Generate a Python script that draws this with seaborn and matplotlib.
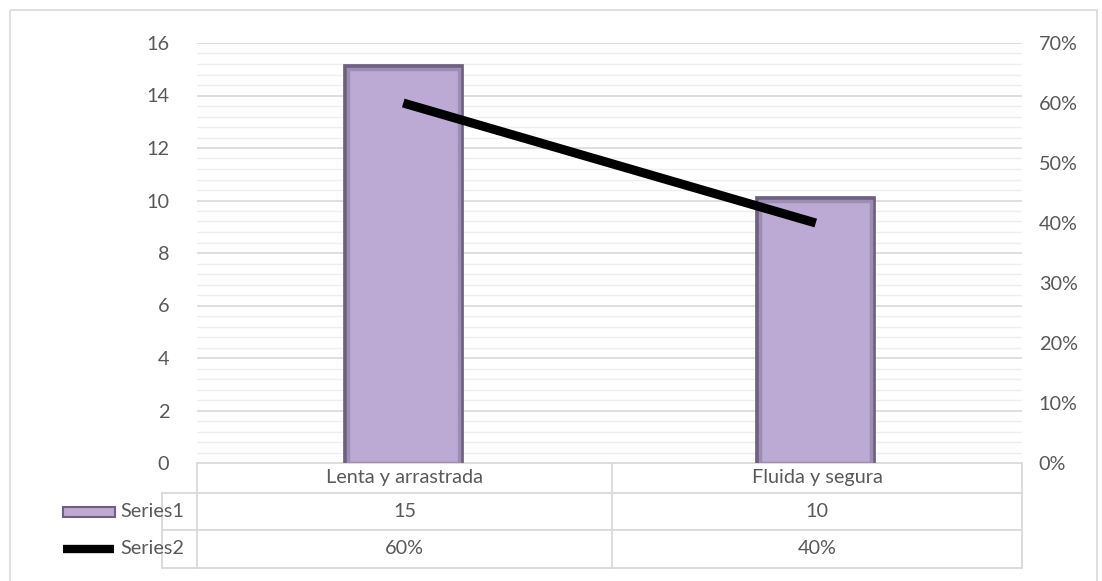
import numpy as np
import pandas as pd
import matplotlib
matplotlib.use('Agg')
import matplotlib.pyplot as plt
import matplotlib.patheffects as pe
from matplotlib.patches import Rectangle
from matplotlib.lines import Line2D
import seaborn as sns

# Datos
categorias = ['Lenta y arrastrada', 'Fluida y segura']
series1 = [15, 10]
series2 = [0.60, 0.40]
nombres = ['Series1', 'Series2']
etiquetas_s2 = ['60%', '40%']

sns.set_style('white')
plt.rcParams['font.family'] = ['Lato', 'DejaVu Sans']
gris_txt = '#595959'
gris_linea = '#d9d9d9'
color_barra = '#bcaad4'
fs = 14.3

fig = plt.figure(figsize=(11.02, 5.81), dpi=100)
W, H = 1102, 581

# zona de trazado en píxeles
x0, x1, ytop, ybot = 197, 1022, 43, 463
ax = fig.add_axes([x0 / W, 1 - ybot / H, (x1 - x0) / W, (ybot - ytop) / H])

df = pd.DataFrame({'cat': categorias, 'v': series1})
sns.barplot(data=df, x='cat', y='v', ax=ax, color=color_barra, width=0.27,
            saturation=1, edgecolor='#9d8db2', linewidth=2.5, zorder=3)
for p in ax.patches:
    p.set_path_effects([pe.Stroke(linewidth=7, foreground='#6e6080'), pe.Normal()])

ax.set_ylim(0, 16)
ax.set_xlim(-0.5, 1.5)
ax.set_yticks(np.arange(0, 17, 2))
ax.set_yticks(np.arange(0, 16.01, 0.4), minor=True)
ax.grid(axis='y', which='major', color=gris_linea, linewidth=1.2, zorder=0)
ax.grid(axis='y', which='minor', color='#eeeeee', linewidth=1.0, zorder=0)
ax.set_axisbelow(True)
ax.set_xticks([])
ax.set_xlabel('')
ax.set_ylabel('')
for s in ax.spines.values():
    s.set_visible(False)
ax.tick_params(axis='y', which='both', length=0, labelsize=fs, labelcolor=gris_txt, pad=20)

ax2 = ax.twinx()
df2 = pd.DataFrame({'cat': categorias, 'p': series2})
sns.lineplot(data=df2, x='cat', y='p', ax=ax2, color='black', linewidth=6.5,
             solid_capstyle='butt', zorder=5)
ax2.set_ylim(0, 0.70)
ax2.set_xlim(-0.5, 1.5)
ax2.set_yticks(np.arange(0, 0.71, 0.1))
ax2.set_yticklabels([f'{int(round(t * 100))}%' for t in np.arange(0, 0.71, 0.1)])
ax2.tick_params(axis='y', length=0, labelsize=fs, labelcolor=gris_txt, pad=12)
ax2.set_xlabel('')
ax2.set_ylabel('')
for s in ax2.spines.values():
    s.set_visible(False)

# tabla de datos (coordenadas en píxeles)
tab = fig.add_axes([0, 0, 1, 1], zorder=-1)
tab.set_xlim(0, W)
tab.set_ylim(H, 0)
tab.axis('off')
tab.patch.set_alpha(0)

xl, xm = 162, 612
filas = [463, 493, 530, 568]
kw = dict(color=gris_linea, linewidth=1.3)
tab.plot([x0, x1], [filas[0], filas[0]], **kw)
for y in filas[1:]:
    tab.plot([xl, x1], [y, y], **kw)
tab.plot([x0, x0], [filas[0], filas[-1]], **kw)
tab.plot([xm, xm], [filas[0], filas[-1]], **kw)
tab.plot([x1, x1], [filas[0], filas[-1]], **kw)
tab.plot([xl, xl], [filas[1], filas[-1]], **kw)

centros = [(x0 + xm) / 2, (xm + x1) / 2]
txt = dict(fontsize=fs, color=gris_txt, ha='center', va='center')
for c, cat, v1, v2 in zip(centros, categorias, series1, etiquetas_s2):
    tab.text(c, (filas[0] + filas[1]) / 2, cat, **txt)
    tab.text(c, (filas[1] + filas[2]) / 2, str(v1), **txt)
    tab.text(c, (filas[2] + filas[3]) / 2, v2, **txt)

# claves de leyenda
y1 = (filas[1] + filas[2]) / 2
y2 = (filas[2] + filas[3]) / 2
tab.add_patch(Rectangle((63, y1 - 5), 52, 10, facecolor=color_barra, edgecolor='#6e6080', linewidth=1.5))
tab.add_line(Line2D([63, 114], [y2, y2], color='black', linewidth=6, solid_capstyle='butt'))
tab.text(120, y1, nombres[0], fontsize=fs, color=gris_txt, ha='left', va='center')
tab.text(120, y2, nombres[1], fontsize=fs, color=gris_txt, ha='left', va='center')

# borde exterior
tab.add_patch(Rectangle((10, 10), 1087, 580, fill=False, edgecolor='#d9d9d9', linewidth=1.2))

fig.savefig('out.png', dpi=100, facecolor='white')
